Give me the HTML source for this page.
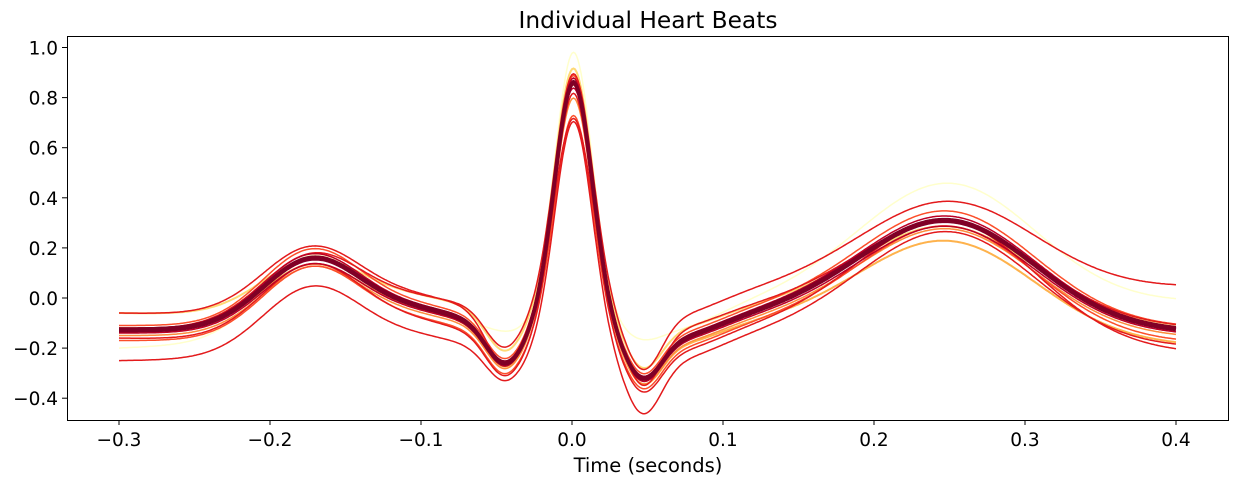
<!DOCTYPE html>
<html><head><meta charset="utf-8"><style>
body{margin:0;background:#fff;width:1239px;height:484px;overflow:hidden}
text{font-family:"DejaVu Sans","Liberation Sans",sans-serif;fill:#000}
</style></head><body>
<svg id="s" width="1239" height="484" xmlns="http://www.w3.org/2000/svg">
<rect width="1239" height="484" fill="#fff"/>
<g id="lines"></g>
<rect x="67.5" y="36.5" width="1161" height="384" fill="none" stroke="#000" stroke-width="1"/>
<g id="ticks" stroke="#000"></g>
<text x="648" y="28" font-size="23.3" text-anchor="middle">Individual Heart Beats</text>
<text x="648" y="472" font-size="19.5" text-anchor="middle">Time (seconds)</text>
</svg>
<script>
function X(t){return 572+t*1510;}
function Y(v){return 298-v*250.5;}
var tk=document.getElementById('ticks'),s='';
[-0.3,-0.2,-0.1,0,0.1,0.2,0.3,0.4].forEach(function(t){var x=X(t);s+='<line x1="'+x+'" x2="'+x+'" y1="420" y2="425"/><text x="'+x+'" y="446" font-size="18.5" text-anchor="middle" stroke="none">'+(t<0?'\u2212':'')+Math.abs(t).toFixed(1)+'</text>';});
[-0.4,-0.2,0,0.2,0.4,0.6,0.8,1.0].forEach(function(v){var y=Y(v);s+='<line x1="62" x2="67" y1="'+y+'" y2="'+y+'"/><text x="58" y="'+(y+7)+'" font-size="18.5" text-anchor="end" stroke="none">'+(v<0?'\u2212':'')+Math.abs(v).toFixed(1)+'</text>';});
tk.innerHTML=s;
function g(t,m,w){return Math.exp(-0.5*Math.pow((t-m)/w,2));}
function beat(t,p){
 var v=p.b + (p.e-p.b)*(t+0.3)/0.7;
 v+=p.P*g(t,-0.172,0.033);
 v+=0.07*g(t,-0.1,0.035);
 v+=p.Q*g(t,-0.045,0.012);
 v+=p.R*g(t,0.001,0.0125);
 v+=p.S*g(t,0.047,0.012);
 v+=-0.05*g(t,0.07,0.025);
 v+=p.T*g(t,0.25,0.058);
 v+=0.06*g(t,0.15,0.06)*p.T/0.45;
 return v;}
var base={b:-0.13,e:-0.14,P:0.28,Q:-0.15,R:0.99,S:-0.17,T:0.43};
function mk(o){var p={};for(var k in base)p[k]=base[k];for(k in o)p[k]=o[k];return p;}
var beats=[
 [mk({b:-0.2,e:-0.02,P:0.33,Q:-0.02,R:1.1,S:-0.04,T:0.5}),'#ffffcc',1.5],
 [mk({b:-0.06,e:-0.12,P:0.22,R:1.0,T:0.38}),'#fed976',2],
 [mk({b:-0.12,e:-0.19,P:0.26,R:1.0,T:0.39}),'#feb24c',2],
 [mk({b:-0.15,e:-0.16,P:0.27,R:0.95,T:0.42}),'#fd8d3c',1.5],
 [mk({b:-0.17,e:-0.18,P:0.29,R:0.9,T:0.45}),'#fc4e2a',1.5],
 [mk({b:-0.11,e:-0.12,P:0.3,R:1.0,T:0.45}),'#fc4e2a',1.5],
 [mk({b:-0.06,e:-0.12,P:0.27,R:0.8,Q:-0.2,S:-0.24,T:0.4}),'#e31a1c',1.5],
 [mk({b:-0.25,e:-0.2,P:0.28,R:0.93,Q:-0.12,S:-0.22,T:0.46}),'#e31a1c',1.5],
 [mk({b:-0.13,e:0.04,P:0.27,R:0.95,S:-0.22,T:0.37}),'#e31a1c',1.5],
 [mk({b:-0.16,e:-0.22,P:0.3,R:1.0,T:0.5}),'#e31a1c',1.5],
 [mk({b:-0.12,e:-0.13,P:0.29,R:1.0,T:0.44}),'#bd0026',1.5],
 [mk({b:-0.14,e:-0.15,P:0.27,R:0.98,T:0.42}),'#bd0026',1.5],
 [mk({b:-0.13,e:-0.14,P:0.28,R:0.99,T:0.43}),'#800026',4],
 [mk({b:-0.12,e:-0.13,P:0.28,R:0.99,T:0.43}),'#800026',1.5]
];
var out='';
beats.forEach(function(bb){var d='';for(var i=0;i<=700;i++){var t=-0.3+i*0.001;d+=(i?'L':'M')+X(t).toFixed(1)+','+Y(beat(t,bb[0])).toFixed(1);}
 out+='<path d="'+d+'" fill="none" stroke="'+bb[1]+'" stroke-width="'+bb[2]+'"/>';});
document.getElementById('lines').innerHTML=out;
</script>
</body></html>
